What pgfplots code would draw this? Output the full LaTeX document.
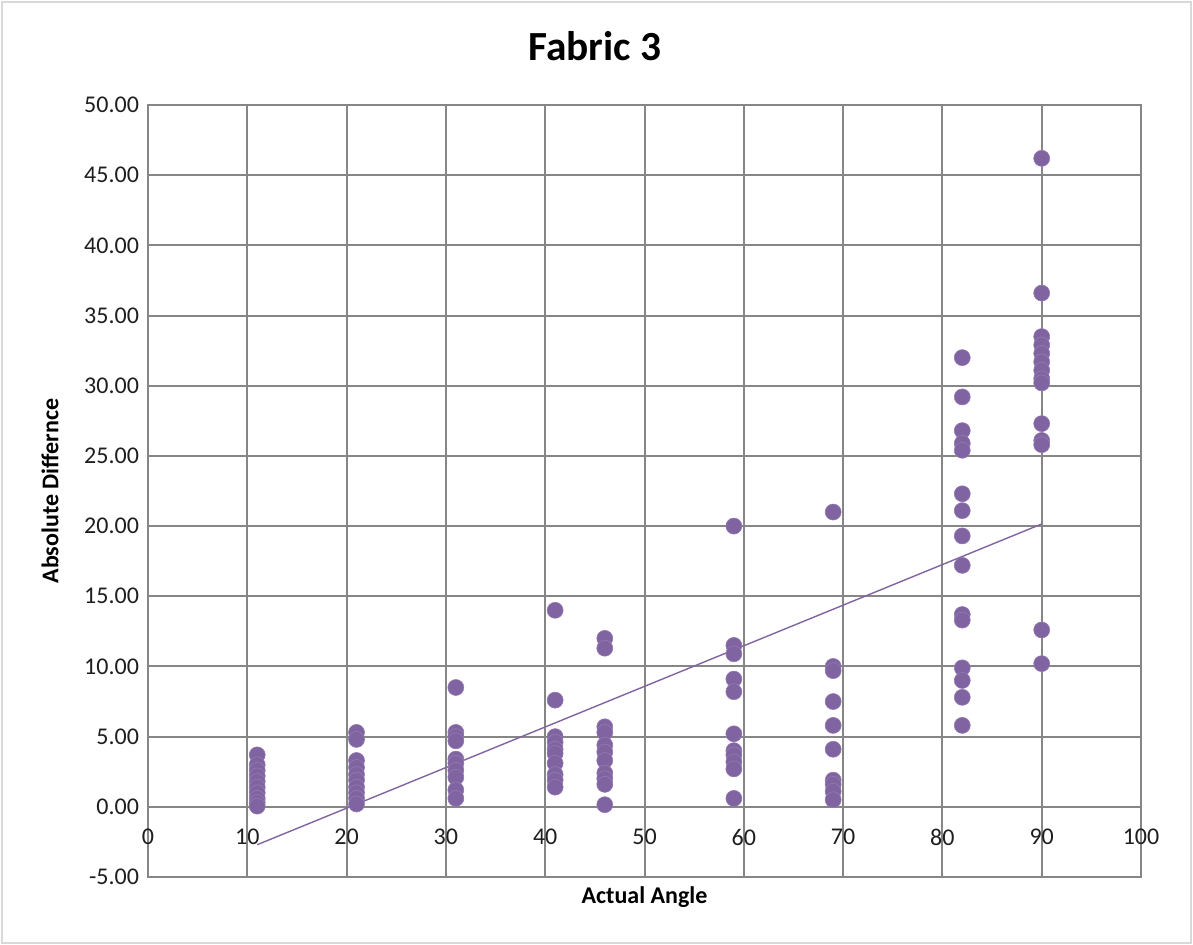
\documentclass[border=0pt]{standalone}
\usepackage{fontspec}
\setmainfont{Carlito}
\usepackage{pgfplots}
\pgfplotsset{compat=1.18}
\definecolor{mpurple}{RGB}{128,100,162}
\definecolor{gridgray}{RGB}{134,134,134}
\definecolor{ticktxt}{RGB}{30,30,30}
\begin{document}
\begin{tikzpicture}
\path[use as bounding box] (-74pt,-34pt) rectangle (522.5pt,438.5pt);
\draw[gray!30, line width=0.8pt] (-73pt,-33pt) rectangle (521.5pt,437.5pt);
\begin{axis}[
  scale only axis,
  width=496.5pt, height=386pt,
  xmin=0, xmax=100, ymin=-5, ymax=50,
  xtick={0,10,...,100},
  ytick={-5,0,...,50},
  grid=major,
  major grid style={draw=gridgray, line width=1pt},
  axis line style={draw=gridgray, line width=1pt},
  tick style={draw=none},
  /pgf/number format/assume math mode=true,
  yticklabel style={/pgf/number format/fixed, /pgf/number format/fixed zerofill, /pgf/number format/precision=2, font=\fontsize{12}{14}\selectfont, text=ticktxt, xshift=-1pt},
  xticklabel style={font=\fontsize{12}{14}\selectfont, text=ticktxt, yshift=27.5pt},
  title={\textbf{Fabric 3}},
  title style={at={(axis description cs:0.450,1.0609)}, anchor=center, font=\fontsize{20.7}{24}\selectfont},
  xlabel={\textbf{Actual Angle}},
  xlabel style={at={(axis description cs:0.5,-0.0259)}, anchor=center, font=\fontsize{12}{14}\selectfont},
  ylabel={\textbf{Absolute Differnce}},
  ylabel style={at={(axis description cs:-0.0987,0.5)}, anchor=center, font=\fontsize{12}{14}\selectfont},
]
\addplot[only marks, mark=*, mark size=4pt, mark options={fill=mpurple, draw=mpurple!85!white, line width=0.3pt}] coordinates {
(11,3.7) (11,3.0) (11,2.6) (11,2.2) (11,1.8) (11,1.4) (11,1.0) (11,0.6) (11,0.3) (11,0.05)
(21,5.3) (21,4.8) (21,3.3) (21,2.8) (21,2.3) (21,1.9) (21,1.4) (21,1.0) (21,0.6) (21,0.2)
(31,8.5) (31,5.3) (31,5.0) (31,4.7) (31,3.4) (31,3.1) (31,2.6) (31,2.1) (31,1.2) (31,0.6)
(41,14.0) (41,7.6) (41,5.0) (41,4.6) (41,4.1) (41,3.8) (41,3.1) (41,2.3) (41,1.9) (41,1.4)
(46,12.0) (46,11.3) (46,5.7) (46,5.3) (46,4.4) (46,3.9) (46,3.3) (46,2.4) (46,2.0) (46,1.6) (46,0.15)
(59,20.0) (59,11.5) (59,10.9) (59,9.1) (59,8.2) (59,5.2) (59,4.0) (59,3.7) (59,3.2) (59,2.7) (59,0.6)
(69,21.0) (69,10.0) (69,9.7) (69,7.5) (69,5.8) (69,4.1) (69,1.9) (69,1.6) (69,1.1) (69,0.5)
(82,32.0) (82,29.2) (82,26.8) (82,25.9) (82,25.4) (82,22.3) (82,21.1) (82,19.3) (82,17.2) (82,13.7) (82,13.3) (82,9.9) (82,9.0) (82,7.8) (82,5.8)
(90,46.2) (90,36.6) (90,33.5) (90,32.9) (90,32.3) (90,31.7) (90,31.1) (90,30.5) (90,30.2) (90,27.3) (90,26.1) (90,25.8) (90,12.6) (90,10.2)
};
\addplot[mpurple, line width=0.7pt] coordinates {(11,-2.7) (90,20.15)};
\end{axis}
\end{tikzpicture}
\end{document}
